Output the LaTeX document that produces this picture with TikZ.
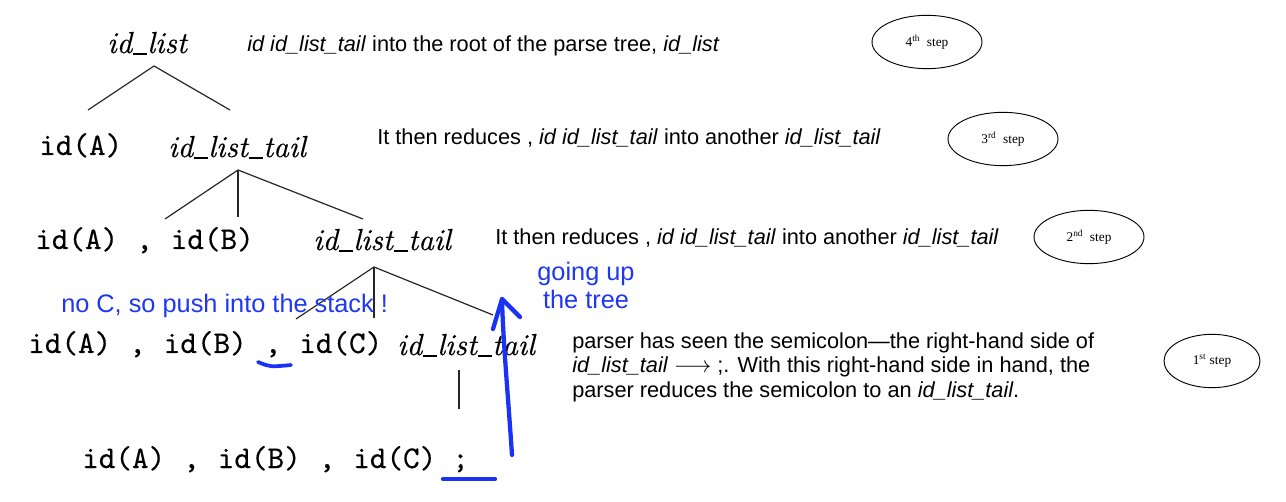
\documentclass[tikz,border=0pt]{standalone}
\usepackage{fontspec}
\usetikzlibrary{shapes.geometric}
\newfontfamily\arialf{Liberation Sans}
\newfontfamily\timesf{Liberation Serif}
\newfontfamily\ttdark[Extension=.otf, FakeBold=0.3]{lmmono10-regular}
\newfontfamily\itserif[Extension=.otf, FakeBold=0.35]{lmroman10-italic}
\definecolor{penblue}{RGB}{25,50,245}
\definecolor{txtblue}{RGB}{30,55,240}
\newcommand{\tcomma}{\hspace{13.5pt},\hspace{13.5pt}}
\newcommand{\us}{\kern0.02em\rule[-0.07em]{0.46em}{0.055em}\kern0.02em}
\tikzset{
 tree/.style={line width=0.9pt, draw=black!85},
 nt/.style={inner sep=0, anchor=base west, font=\fontsize{22.8}{26}\selectfont\itserif},
 tok/.style={inner sep=0, anchor=base west, font=\fontsize{23.7}{27}\selectfont\ttdark},
 expl/.style={inner sep=0, anchor=base west, font=\fontsize{16.3}{18.4}\selectfont\arialf},
 note/.style={inner sep=0, font=\fontsize{19}{21}\selectfont\arialf, text=txtblue},
 stepnode/.style={draw, ellipse, line width=0.7pt, minimum width=82.5pt, minimum height=40pt, inner sep=0, font=\fontsize{10}{12}\selectfont\timesf},
 pen/.style={draw=penblue, line width=3.2pt, line cap=round, line join=round},
 thinpen/.style={draw=penblue, line width=2.8pt, line cap=round},
}
\begin{document}
\begin{tikzpicture}[x=0.75pt,y=-0.75pt]
\useasboundingbox (0,0) rectangle (1286,502);
% tree rows
\node[nt] (idlist) at (107,53) {id\us list};
\node[tok] (r2a) at (39,155) {id(A)};
\node[nt] (r2t) at (168,157) {id\us list\us tail};
\node[tok] (r3a) at (35,249) {id(A)\tcomma id(B)};
\node[nt] (r3t) at (313,250) {id\us list\us tail};
\node[tok] (r4a) at (28,353) {id(A)\tcomma id(B)\tcomma id(C)};
\node[nt] (r4t) at (397,355) {id\us list\us tail};
\node[tok] (r5a) at (82,468) {id(A)\tcomma id(B)\tcomma id(C)\hspace{12pt};};
% tree edges
\coordinate (t1) at (154,66);
\coordinate (t1l) at (88,110);
\coordinate (t1r) at (230,110);
\coordinate (t2) at (238,170);
\coordinate (t2l) at (165,219);
\coordinate (t2m) at (238,217);
\coordinate (t2r) at (363,219);
\coordinate (t3) at (374,267);
\coordinate (t3l) at (296,319);
\coordinate (t3m) at (374,318);
\coordinate (t3r) at (493,315);
\coordinate (t4) at (459,370);
\coordinate (t4b) at (459,409);
\draw[tree] (t1l) -- (t1) -- (t1r);
\draw[tree] (t2l) -- (t2) -- (t2r);
\draw[tree] (t2) -- (t2m);
\draw[tree] (t3l) -- (t3) -- (t3r);
\draw[tree] (t3) -- (t3m);
\draw[tree] (t4) -- (t4b);
% explanations
\node[expl] (e1) at (247,52) {\textit{id id\_list\_tail} into the root of the parse tree, \textit{id\_list}};
\node[expl] (e2) at (377,145) {It then reduces , \textit{id id\_list\_tail} into another \textit{id\_list\_tail}};
\node[expl] (e3) at (495,245) {It then reduces , \textit{id id\_list\_tail} into another \textit{id\_list\_tail}};
\node[expl, anchor=north west, align=left] (e4) at (572,332) {parser has seen the semicolon—the right-hand side of\\
\textit{id\_list\_tail} $\longrightarrow$ ;. With this right-hand side in hand, the\\
parser reduces the semicolon to an \textit{id\_list\_tail}.};
% step ellipses
\node[stepnode] (s4) at (927,42) {4\textsuperscript{th}\ \ step};
\node[stepnode] (s3) at (1003,139) {3\textsuperscript{rd}\ \ step};
\node[stepnode] (s2) at (1089,237) {2\textsuperscript{nd}\ \ step};
\node[stepnode, minimum width=72pt] (s1) at (1212,361) {1\textsuperscript{st} step};
% blue annotations
\node[note, anchor=base west] (n1) at (61,313) {no C, so push into the stack !};
\node[note, align=center, anchor=north] (n2) at (586,262) {going up\\the tree};
\coordinate (u1a) at (258,362);
\coordinate (u1b) at (291,365);
\draw[thinpen] (u1a) .. controls (270,367) .. (u1b);
\coordinate (u2a) at (443,479);
\coordinate (u2b) at (495,479);
\draw[pen] (u2a) -- (u2b);
\coordinate (arB) at (512,455);
\coordinate (arT) at (502,299);
\coordinate (arL) at (493,329);
\coordinate (arR) at (520,317);
\draw[pen] (arB) .. controls (508,395) and (503,340) .. (arT);
\draw[pen] (arL) -- (arT) -- (arR);
\end{tikzpicture}
\end{document}
